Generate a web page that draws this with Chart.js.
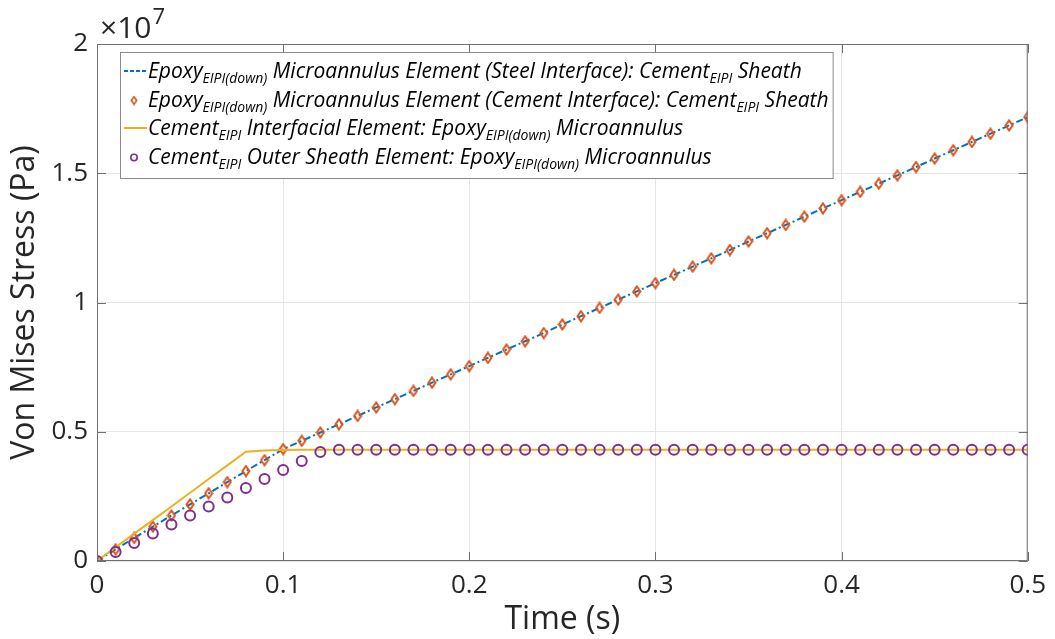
<!DOCTYPE html>
<html>
<head>
<meta charset="utf-8">
<script src="https://cdn.jsdelivr.net/npm/chart.js@4.4.1/dist/chart.umd.min.js"></script>
<style>
  html, body { margin: 0; padding: 0; background: #fff; }
  canvas { display: block; }
</style>
</head>
<body>
<canvas id="stress-chart" width="1055" height="639"></canvas>
<script>
'use strict';

// time samples (s)
const timeS = [
  0, 0.01, 0.02, 0.03, 0.04, 0.05, 0.06, 0.07, 0.08, 0.09,
  0.10, 0.11, 0.12, 0.13, 0.14, 0.15, 0.16, 0.17, 0.18, 0.19,
  0.20, 0.21, 0.22, 0.23, 0.24, 0.25, 0.26, 0.27, 0.28, 0.29,
  0.30, 0.31, 0.32, 0.33, 0.34, 0.35, 0.36, 0.37, 0.38, 0.39,
  0.40, 0.41, 0.42, 0.43, 0.44, 0.45, 0.46, 0.47, 0.48, 0.49,
  0.50
];

// von Mises stress, in units of 1e7 Pa
const epoxySteelIface = [
  0, 0.045, 0.089, 0.133, 0.176, 0.219, 0.262, 0.305, 0.348, 0.390,
  0.433, 0.465, 0.497, 0.529, 0.561, 0.594, 0.626, 0.658, 0.690, 0.722,
  0.754, 0.786, 0.818, 0.850, 0.882, 0.915, 0.947, 0.979, 1.011, 1.043,
  1.075, 1.107, 1.139, 1.171, 1.203, 1.236, 1.268, 1.300, 1.332, 1.364,
  1.396, 1.428, 1.460, 1.492, 1.524, 1.557, 1.589, 1.621, 1.653, 1.685,
  1.717
];
const epoxyCementIface = [
  0, 0.045, 0.089, 0.133, 0.176, 0.219, 0.262, 0.305, 0.348, 0.390,
  0.433, 0.465, 0.497, 0.529, 0.561, 0.594, 0.626, 0.658, 0.690, 0.722,
  0.754, 0.786, 0.818, 0.850, 0.882, 0.915, 0.947, 0.979, 1.011, 1.043,
  1.075, 1.107, 1.139, 1.171, 1.203, 1.236, 1.268, 1.300, 1.332, 1.364,
  1.396, 1.428, 1.460, 1.492, 1.524, 1.557, 1.589, 1.621, 1.653, 1.685,
  1.717
];
const cementInterfacial = [
  0, 0.053, 0.106, 0.158, 0.211, 0.264, 0.317, 0.370, 0.4225, 0.427,
  0.429, 0.43, 0.43, 0.43, 0.43, 0.43, 0.43, 0.43, 0.43, 0.43,
  0.43, 0.43, 0.43, 0.43, 0.43, 0.43, 0.43, 0.43, 0.43, 0.43,
  0.43, 0.43, 0.43, 0.43, 0.43, 0.43, 0.43, 0.43, 0.43, 0.43,
  0.43, 0.43, 0.43, 0.43, 0.43, 0.43, 0.43, 0.43, 0.43, 0.43,
  0.43
];
const cementOuterSheath = [
  0, 0.035, 0.070, 0.106, 0.141, 0.176, 0.211, 0.246, 0.282, 0.317,
  0.352, 0.387, 0.422, 0.43, 0.43, 0.43, 0.43, 0.43, 0.43, 0.43,
  0.43, 0.43, 0.43, 0.43, 0.43, 0.43, 0.43, 0.43, 0.43, 0.43,
  0.43, 0.43, 0.43, 0.43, 0.43, 0.43, 0.43, 0.43, 0.43, 0.43,
  0.43, 0.43, 0.43, 0.43, 0.43, 0.43, 0.43, 0.43, 0.43, 0.43,
  0.43
];

const xTicks = [0, 0.1, 0.2, 0.3, 0.4, 0.5];
const yTicks = [0, 0.5, 1, 1.5, 2];

// legend rows: [text, isSubscript]
const legendRows = [
  [['Epoxy', false], ['EIPI(down)', true], [' Microannulus Element (Steel Interface): Cement', false], ['EIPI', true], [' Sheath', false]],
  [['Epoxy', false], ['EIPI(down)', true], [' Microannulus Element (Cement Interface): Cement', false], ['EIPI', true], [' Sheath', false]],
  [['Cement', false], ['EIPI', true], [' Interfacial Element: Epoxy', false], ['EIPI(down)', true], [' Microannulus', false]],
  [['Cement', false], ['EIPI', true], [' Outer Sheath Element: Epoxy', false], ['EIPI(down)', true], [' Microannulus', false]]
];

const FONT = "'Open Sans', 'DejaVu Sans', sans-serif";
const BLUE = '#0072bd';
const ORANGE = '#d95319';
const YELLOW = '#edb120';
const PURPLE = '#7e2f8e';
const AXIS = '#6f6f6f';

function pairs(ys) {
  return timeS.map((t, i) => ({ x: t, y: ys[i] }));
}

// tall diamond marker
function makeDiamond(w, h, lw) {
  const c = document.createElement('canvas');
  c.width = w; c.height = h;
  const g = c.getContext('2d');
  g.strokeStyle = ORANGE;
  g.lineWidth = lw;
  const p = lw / 2 + 0.5;
  g.beginPath();
  g.moveTo(w / 2, p); g.lineTo(w - p, h / 2); g.lineTo(w / 2, h - p); g.lineTo(p, h / 2);
  g.closePath();
  g.stroke();
  return c;
}
const diamond = makeDiamond(10, 13, 2);
const legendDiamond = makeDiamond(8, 10, 1.6);

// axes box + inward ticks on all four sides
const axesFrame = {
  id: 'axesFrame',
  afterDatasetsDraw(chart) {
    const { ctx, chartArea: a, scales } = chart;
    const len = 9;
    ctx.save();
    ctx.strokeStyle = AXIS;
    ctx.lineWidth = 1;
    ctx.strokeRect(a.left + 0.5, a.top + 0.5, a.right - a.left - 1, a.bottom - a.top - 1);
    ctx.beginPath();
    xTicks.forEach((v) => {
      const x = Math.round(scales.x.getPixelForValue(v)) + 0.5;
      ctx.moveTo(x, a.bottom); ctx.lineTo(x, a.bottom - len);
      ctx.moveTo(x, a.top); ctx.lineTo(x, a.top + len);
    });
    yTicks.forEach((v) => {
      const y = Math.round(scales.y.getPixelForValue(v)) + 0.5;
      ctx.moveTo(a.left, y); ctx.lineTo(a.left + len, y);
      ctx.moveTo(a.right, y); ctx.lineTo(a.right - len, y);
    });
    ctx.stroke();

    // exponent label above the y axis
    ctx.fillStyle = '#262626';
    ctx.textBaseline = 'alphabetic';
    ctx.textAlign = 'left';
    ctx.font = `30px ${FONT}`;
    ctx.fillText('\u00d710', 100, 38);
    const w = ctx.measureText('\u00d710').width;
    ctx.font = `22px ${FONT}`;
    ctx.fillText('7', 100 + w + 1, 24);
    ctx.restore();
  }
};

// legend with subscripted labels
const subLegend = {
  id: 'subLegend',
  afterDraw(chart) {
    const { ctx } = chart;
    const sets = chart.data.datasets;
    const left = 120, top = 52, rowH = 28.5, textX = 148;
    const mainFont = `italic 21px ${FONT}`;
    const subFont = `italic 14px ${FONT}`;
    ctx.save();

    let maxW = 0;
    legendRows.forEach((row) => {
      let w = 0;
      row.forEach(([s, sub]) => { ctx.font = sub ? subFont : mainFont; w += ctx.measureText(s).width; });
      maxW = Math.max(maxW, w);
    });
    const boxW = textX - left + maxW + 4;
    const boxH = 126;
    ctx.fillStyle = '#fff';
    ctx.fillRect(left, top, boxW, boxH);
    ctx.strokeStyle = '#8a8a8a';
    ctx.lineWidth = 1;
    ctx.strokeRect(left + 0.5, top + 0.5, boxW, boxH);

    legendRows.forEach((row, i) => {
      const cy = top + 18 + i * rowH;
      const ds = sets[i];
      if (ds.showLine === false) {
        if (ds.pointStyle === 'circle') {
          ctx.strokeStyle = ds.borderColor;
          ctx.lineWidth = 1.6;
          ctx.beginPath();
          ctx.arc(134, cy + 2, 3.2, 0, Math.PI * 2);
          ctx.stroke();
        } else {
          ctx.drawImage(legendDiamond, 134 - legendDiamond.width / 2, cy + 2 - legendDiamond.height / 2);
        }
      } else {
        ctx.strokeStyle = ds.borderColor;
        ctx.lineWidth = 2;
        ctx.setLineDash(ds.borderDash ? [4, 2] : []);
        ctx.beginPath();
        ctx.moveTo(124, cy + 1); ctx.lineTo(147, cy + 1);
        ctx.stroke();
        ctx.setLineDash([]);
      }

      let x = textX;
      ctx.fillStyle = '#000';
      ctx.textBaseline = 'alphabetic';
      row.forEach(([s, sub]) => {
        ctx.font = sub ? subFont : mainFont;
        ctx.fillText(s, x, sub ? cy + 13 : cy + 8);
        x += ctx.measureText(s).width;
      });
    });
    ctx.restore();
  }
};

const ctx = document.getElementById('stress-chart').getContext('2d');
new Chart(ctx, {
  type: 'scatter',
  data: {
    datasets: [
      {
        label: 'Epoxy EIPI(down) Microannulus Element (Steel Interface): Cement EIPI Sheath',
        data: pairs(epoxySteelIface),
        showLine: true,
        borderColor: BLUE,
        borderWidth: 2,
        borderDash: [7, 3, 2, 3],
        pointRadius: 0,
        order: 4
      },
      {
        label: 'Epoxy EIPI(down) Microannulus Element (Cement Interface): Cement EIPI Sheath',
        data: pairs(epoxyCementIface),
        showLine: false,
        pointStyle: diamond,
        pointRadius: 5,
        order: 3
      },
      {
        label: 'Cement EIPI Interfacial Element: Epoxy EIPI(down) Microannulus',
        data: pairs(cementInterfacial),
        showLine: true,
        borderColor: YELLOW,
        borderWidth: 2,
        pointRadius: 0,
        order: 2
      },
      {
        label: 'Cement EIPI Outer Sheath Element: Epoxy EIPI(down) Microannulus',
        data: pairs(cementOuterSheath),
        showLine: false,
        pointStyle: 'circle',
        pointRadius: 5,
        borderColor: PURPLE,
        pointBorderColor: PURPLE,
        pointBackgroundColor: 'rgba(0,0,0,0)',
        pointBorderWidth: 2,
        order: 1
      }
    ]
  },
  options: {
    responsive: false,
    devicePixelRatio: 1,
    animation: false,
    layout: { padding: { top: 44, right: 25, left: 0, bottom: 0 } },
    plugins: { legend: { display: false }, tooltip: { enabled: false } },
    scales: {
      x: {
        type: 'linear',
        min: 0, max: 0.5,
        afterBuildTicks: (s) => { s.ticks = xTicks.map((v) => ({ value: v })); },
        afterFit: (s) => { s.height = 78; },
        grid: { color: '#e6e6e6', drawTicks: false },
        border: { display: false },
        ticks: {
          padding: 9,
          color: '#262626',
          font: { family: FONT, size: 26 },
          callback: (v) => (v === 0 ? '0' : Number(v).toFixed(1))
        },
        title: {
          display: true,
          text: 'Time (s)',
          color: '#262626',
          font: { family: FONT, size: 32 },
          padding: { top: 0, bottom: 0 }
        }
      },
      y: {
        min: 0, max: 2,
        afterBuildTicks: (s) => { s.ticks = yTicks.map((v) => ({ value: v })); },
        afterFit: (s) => { s.width = 97; },
        grid: { color: '#e6e6e6', drawTicks: false },
        border: { display: false },
        ticks: {
          padding: 9,
          color: '#262626',
          font: { family: FONT, size: 26 },
          callback: (v) => String(v)
        },
        title: {
          display: true,
          text: 'Von Mises Stress (Pa)',
          color: '#262626',
          font: { family: FONT, size: 32 },
          padding: { top: 6, bottom: 0 }
        }
      }
    }
  },
  plugins: [axesFrame, subLegend]
});
</script>
</body>
</html>
